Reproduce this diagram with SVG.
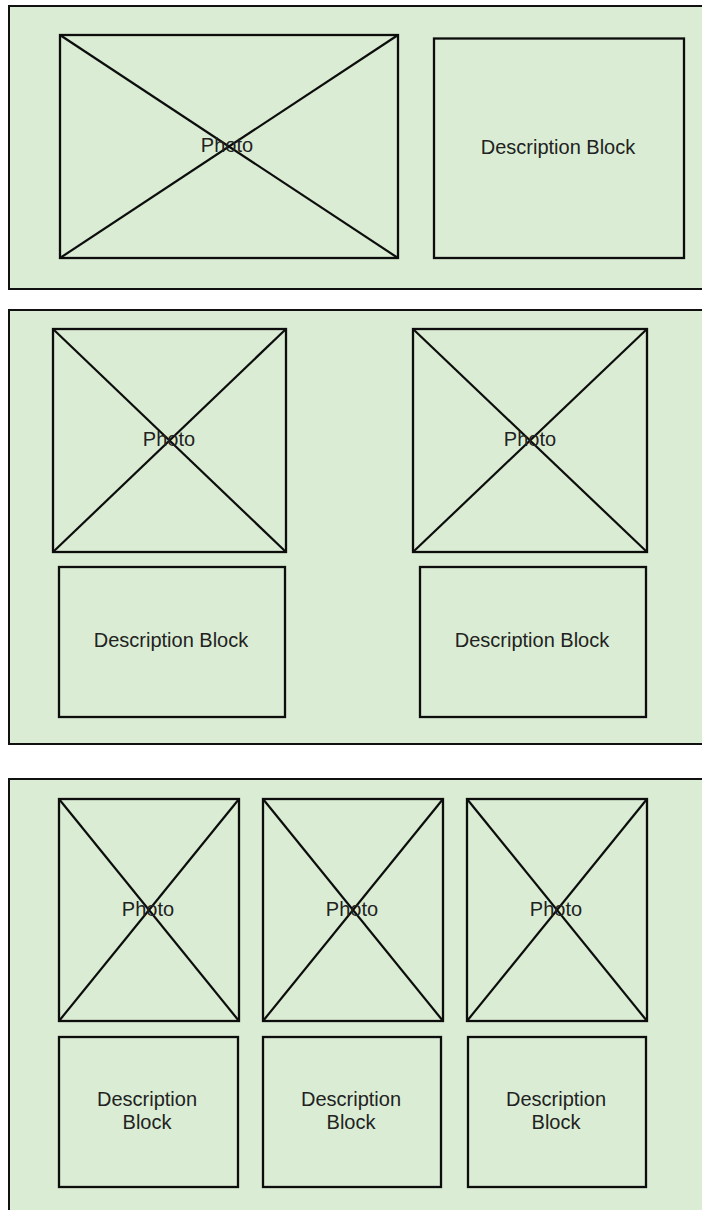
<svg xmlns="http://www.w3.org/2000/svg" width="702" height="1210" viewBox="0 0 702 1210">
<style>
.panel{fill:#daedd4;stroke:#111111;stroke-width:2}
.box{fill:none;stroke:#0d0d0d;stroke-width:2.3}
.x{stroke:#0d0d0d;stroke-width:2.2}
text{font-family:"Liberation Sans",Arial,sans-serif;font-size:20px;fill:#222222;text-anchor:middle}
</style>
<rect width="702" height="1210" fill="#ffffff"/>
<g id="panel1">
<rect class="panel" x="9" y="6" width="710" height="283"/>
</g>
<g id="panel2">
<rect class="panel" x="9" y="310" width="710" height="434"/>
</g>
<g id="panel3">
<rect class="panel" x="9" y="779" width="710" height="450"/>
</g>
<g id="photo1">
<rect class="box" x="60" y="35" width="338" height="223"/>
<line class="x" x1="60" y1="35" x2="398" y2="258"/>
<line class="x" x1="398" y1="35" x2="60" y2="258"/>
<text x="227" y="152">Photo</text>
</g>
<g id="desc1">
<rect class="box" x="434" y="38.5" width="250" height="219.5"/>
<text x="558" y="154">Description Block</text>
</g>
<g id="photo2a">
<rect class="box" x="53" y="329" width="233" height="223"/>
<line class="x" x1="53" y1="329" x2="286" y2="552"/>
<line class="x" x1="286" y1="329" x2="53" y2="552"/>
<text x="169" y="446">Photo</text>
</g>
<g id="photo2b">
<rect class="box" x="413" y="329" width="234" height="223"/>
<line class="x" x1="413" y1="329" x2="647" y2="552"/>
<line class="x" x1="647" y1="329" x2="413" y2="552"/>
<text x="530" y="446">Photo</text>
</g>
<g id="desc2a">
<rect class="box" x="59" y="567" width="226" height="150"/>
<text x="171" y="647">Description Block</text>
</g>
<g id="desc2b">
<rect class="box" x="420" y="567" width="226" height="150"/>
<text x="532" y="647">Description Block</text>
</g>
<g id="photo3a">
<rect class="box" x="59" y="799" width="180" height="222"/>
<line class="x" x1="59" y1="799" x2="239" y2="1021"/>
<line class="x" x1="239" y1="799" x2="59" y2="1021"/>
<text x="148" y="916">Photo</text>
</g>
<g id="photo3b">
<rect class="box" x="263" y="799" width="180" height="222"/>
<line class="x" x1="263" y1="799" x2="443" y2="1021"/>
<line class="x" x1="443" y1="799" x2="263" y2="1021"/>
<text x="352" y="916">Photo</text>
</g>
<g id="photo3c">
<rect class="box" x="467" y="799" width="180" height="222"/>
<line class="x" x1="467" y1="799" x2="647" y2="1021"/>
<line class="x" x1="647" y1="799" x2="467" y2="1021"/>
<text x="556" y="916">Photo</text>
</g>
<g id="desc3a">
<rect class="box" x="59" y="1037" width="179" height="150"/>
<text x="147" y="1106">Description</text>
<text x="147" y="1129">Block</text>
</g>
<g id="desc3b">
<rect class="box" x="263" y="1037" width="178" height="150"/>
<text x="351" y="1106">Description</text>
<text x="351" y="1129">Block</text>
</g>
<g id="desc3c">
<rect class="box" x="468" y="1037" width="178" height="150"/>
<text x="556" y="1106">Description</text>
<text x="556" y="1129">Block</text>
</g>
<g id="connectors"/>
</svg>
